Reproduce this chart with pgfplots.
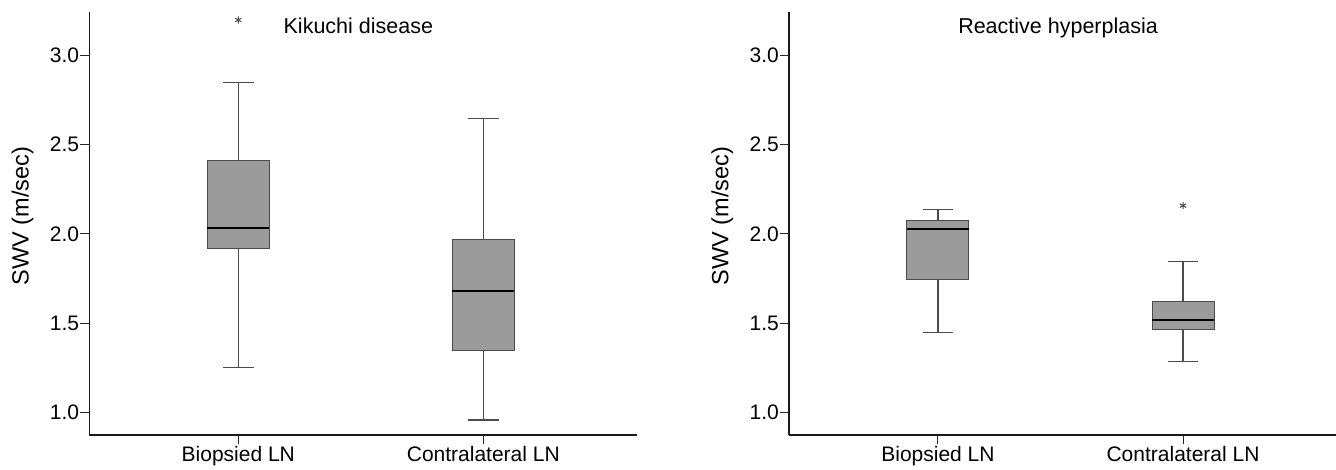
\documentclass[border=0pt]{standalone}
\usepackage{fontspec}
\setmainfont{Liberation Sans}
\usepackage{pgfplots}
\pgfplotsset{compat=1.18}
\usepgfplotslibrary{statistics}

\definecolor{boxfill}{RGB}{155,155,155}
\definecolor{boxline}{RGB}{75,75,75}

\newcommand{\lbl}{\fontsize{21}{25}\selectfont}

\pgfplotsset{
  swvpanel/.style={
    anchor=south west, scale only axis,
    width=547.4pt, height=423pt,
    xmin=0.392, xmax=2.626, ymin=0.873, ymax=3.243,
    axis lines=left,
    axis line style={-, line width=1.2pt, black!90},
    xtick={1,2}, xticklabels={Biopsied LN, Contralateral LN},
    ytick={1,1.5,2,2.5,3},
    /pgf/number format/assume math mode=true,
    tick align=outside, major tick length=9pt,
    tick style={line width=1pt, black!85},
    yticklabel style={font=\lbl, /pgf/number format/fixed, /pgf/number format/fixed zerofill,
      /pgf/number format/precision=1, inner xsep=1pt},
    xticklabel style={font=\lbl, inner ysep=2pt},
    ylabel={SWV (m/sec)},
    ylabel style={font=\fontsize{23.5}{28}\selectfont, at={(axis description cs:-0.122,0.518)}, anchor=center},
    boxplot/draw direction=y,
    boxplot/box extend=0.253,
    boxplot/whisker extend=0.125,
    boxplot/every box/.style={draw=boxline, fill=boxfill, line width=1pt},
    boxplot/every whisker/.style={draw=boxline, line width=1.2pt},
    boxplot/every median/.style={draw=black, line width=2.3pt},
    clip=false,
  },
  outl/.style={only marks, mark=asterisk, mark size=3.6pt, color=boxline, mark options={line width=1pt}},
}

\begin{document}
\begin{tikzpicture}
\useasboundingbox (0,0) rectangle (1336pt,470pt);

% Kikuchi disease
\begin{axis}[swvpanel, at={(89.3pt,35pt)}]
  \addplot[boxplot prepared={draw position=1, lower whisker=1.252, lower quartile=1.919,
    median=2.031, upper quartile=2.41, upper whisker=2.849}] coordinates {};
  \addplot[boxplot prepared={draw position=2, lower whisker=0.957, lower quartile=1.345,
    median=1.680, upper quartile=1.971, upper whisker=2.647}] coordinates {};
  \addplot[outl] coordinates {(1,3.198)};
  \node[font=\fontsize{21.5}{26}\selectfont, anchor=base] at (axis cs:1.49,3.123) {Kikuchi disease};
\end{axis}

% Reactive hyperplasia
\begin{axis}[swvpanel, at={(789pt,35pt)}]
  \addplot[boxplot prepared={draw position=1, lower whisker=1.446, lower quartile=1.745,
    median=2.029, upper quartile=2.076, upper whisker=2.135}] coordinates {};
  \addplot[boxplot prepared={draw position=2, lower whisker=1.284, lower quartile=1.465,
    median=1.519, upper quartile=1.622, upper whisker=1.846}] coordinates {};
  \addplot[outl] coordinates {(2,2.158)};
  \node[font=\fontsize{21.5}{26}\selectfont, anchor=base] at (axis cs:1.49,3.123) {Reactive hyperplasia};
\end{axis}
\end{tikzpicture}
\end{document}
